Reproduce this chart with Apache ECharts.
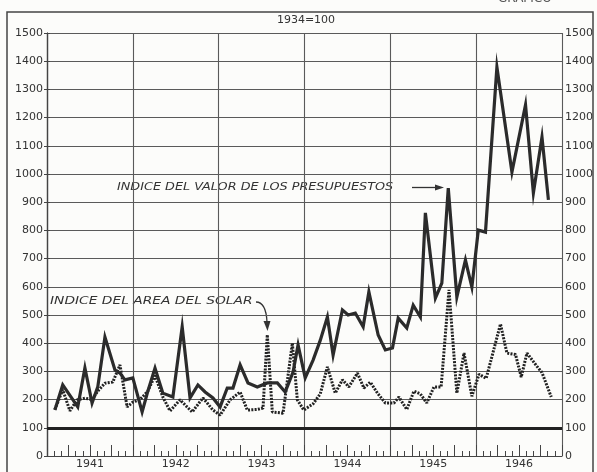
<!DOCTYPE html>
<html>
<head>
<meta charset="utf-8">
<script src="https://cdn.jsdelivr.net/npm/echarts@6/dist/echarts.min.js"></script>
<style>
html,body{margin:0;padding:0;background:#fcfcfa;}
#chart{width:597px;height:472px;}
</style>
</head>
<body>
<div id="chart"></div>
<script>
// x positions in months counted from January 1941 (0 = start of 1941)
const yearLabels = ['1941','1942','1943','1944','1945','1946'];
const yTicks = [0,100,200,300,400,500,600,700,800,900,1000,1100,1200,1300,1400,1500];

// Índice del valor de los presupuestos (solid line)
const presMonths = [1.1,2.2,3.2,4.3,5.3,6.3,7.1,8.1,9.5,10.2,10.9,12.0,13.3,14.1,15.1,16.2,17.6,18.9,20.0,21.1,22.1,23.2,24.2,25.2,26.0,27.0,28.1,29.4,30.8,32.2,33.3,34.4,35.1,36.1,37.2,38.2,39.2,40.0,41.3,42.1,43.1,44.2,45.0,46.3,47.3,48.3,49.1,50.3,51.2,52.2,52.9,54.3,55.2,56.1,57.3,58.5,59.4,60.3,61.3,62.9,65.0,66.9,68.0,69.2,70.1];
const presValues = [163,252,215,174,312,188,245,422,305,294,270,277,156,230,312,223,209,458,206,252,227,206,174,241,241,323,259,245,259,259,227,298,394,277,340,410,493,358,518,500,507,458,582,429,376,383,489,454,535,493,862,560,613,950,564,695,599,801,794,1379,1007,1245,933,1131,908];

// Índice del área del solar (dotted line)
const solarMonths = [1.1,2.2,3.2,4.2,5.3,6.3,7.1,8.1,9.2,10.2,11.2,12.0,13.0,14.1,15.1,16.2,17.2,18.6,20.3,21.8,23.2,24.2,25.6,27.0,28.0,29.4,30.2,30.8,31.5,33.0,34.3,35.0,35.9,37.2,38.2,39.2,40.3,41.3,42.2,43.4,44.3,45.2,46.2,47.3,48.5,49.2,50.3,51.3,52.2,53.1,54.1,55.1,56.2,57.3,58.3,59.4,60.4,61.4,63.4,64.3,65.5,66.3,67.1,68.5,69.2,70.5];
const solarValues = [165,235,160,199,205,200,230,258,262,323,174,191,200,230,285,209,160,199,156,206,163,145,199,227,163,165,170,430,156,152,400,199,163,185,220,316,223,270,245,294,241,262,223,188,188,209,165,230,220,188,245,245,589,223,365,212,290,275,468,365,360,280,365,318,296,209];

const baseValue = 100;

const presData = presMonths.map((m,i)=>[m,presValues[i]]);
const solarData = solarMonths.map((m,i)=>[m,solarValues[i]]);

const ink = '#2b2b2b';
const gridCol = '#5a5a5a';
const font = 'DejaVu Sans';

const chart = echarts.init(document.getElementById('chart'));
const yAxisBase = {
  type:'value', min:0, max:1500, interval:100,
  axisLine:{show:true, lineStyle:{color:'#444', width:1.2}},
  axisTick:{show:true, length:3, lineStyle:{color:'#444'}},
  axisLabel:{color:'#333', fontSize:11, fontFamily:font,
    formatter:v=> yTicks.indexOf(v)>=0 ? String(v) : ''}
};
chart.setOption({
  backgroundColor:'#fcfcfa',
  animation:false,
  grid:{left:47, right:35, top:33, bottom:16},
  xAxis:[{
    type:'value', min:0, max:72, interval:3,
    axisLine:{show:true, lineStyle:{color:'#444', width:1.2}},
    axisTick:{show:true, inside:true, length:11, lineStyle:{color:'#444', width:1}},
    minorTick:{show:true, splitNumber:3, length:5, lineStyle:{color:'#444', width:1}},
    splitLine:{show:false},
    axisLabel:{color:'#333', fontSize:11, fontFamily:font, margin:3,
      formatter:v=> (v%12===6) ? yearLabels[(v-6)/12] : ''}
  },{
    type:'value', min:0, max:72, interval:12, position:'bottom',
    axisLine:{show:false}, axisTick:{show:false}, axisLabel:{show:false},
    splitLine:{show:true, lineStyle:{color:gridCol, width:1.1}}
  }],
  yAxis:[
    Object.assign({}, yAxisBase, {position:'left',
      splitLine:{show:true, lineStyle:{color:gridCol, width:1.1}},
      axisLabel:Object.assign({}, yAxisBase.axisLabel, {margin:4})}),
    Object.assign({}, yAxisBase, {position:'right',
      splitLine:{show:false},
      axisLabel:Object.assign({}, yAxisBase.axisLabel, {margin:3})})
  ],
  series:[
    {
      name:'Indice del area del solar', type:'line', data:solarData,
      symbol:'none', z:3,
      lineStyle:{color:'#222', width:3, type:[2,1.3]}
    },
    {
      name:'Indice del valor de los presupuestos', type:'line', data:presData,
      symbol:'none', z:4,
      lineStyle:{color:ink, width:3.2, join:'miter'},
      markLine:{silent:true, symbol:'none', label:{show:false},
        lineStyle:{color:'#222', width:3, type:'solid'},
        data:[{yAxis:baseValue}]}
    }
  ],
  graphic:[
    {type:'rect', shape:{x:7,y:12,width:586,height:480}, style:{fill:'none', stroke:'#444', lineWidth:1.5}, z:0},
    {type:'text', x:498, y:-7, style:{text:'GRAFICO', font:'12px DejaVu Sans', fill:'#555'}},
    {type:'text', x:306, y:20, style:{text:'1934=100', font:'11px DejaVu Sans', fill:'#333', align:'center', verticalAlign:'middle'}},
    {type:'text', x:117, y:187, scaleX:1.28, style:{text:'INDICE DEL VALOR DE LOS PRESUPUESTOS', font:'italic 10px DejaVu Sans', fill:'#333', verticalAlign:'middle'}},
    {type:'line', shape:{x1:412,y1:187.5,x2:436,y2:187.5}, style:{stroke:'#333', lineWidth:1.3}},
    {type:'polygon', shape:{points:[[435,184.5],[444,187.5],[435,190.5]]}, style:{fill:'#333'}},
    {type:'text', x:50, y:301, scaleX:1.38, style:{text:'INDICE DEL AREA DEL SOLAR', font:'italic 10px DejaVu Sans', fill:'#333', verticalAlign:'middle'}},
    {type:'bezierCurve', shape:{x1:256,y1:302,cpx1:266,cpy1:302,x2:267,y2:322}, style:{stroke:'#333', lineWidth:1.3, fill:'none'}},
    {type:'polygon', shape:{points:[[263.5,321],[267.5,331],[270.5,321]]}, style:{fill:'#333'}}
  ]
});
</script>
</body>
</html>
